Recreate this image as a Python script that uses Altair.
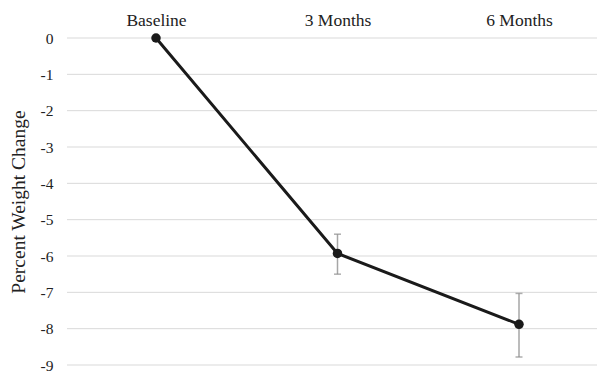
import altair as alt
import pandas as pd

timepoints = ["Baseline", "3 Months", "6 Months"]
mean_change = [0.0, -5.93, -7.88]
err_low = [0.0, -6.50, -8.78]
err_high = [0.0, -5.40, -7.03]
y_ticks = [0, -1, -2, -3, -4, -5, -6, -7, -8, -9]

df = pd.DataFrame({"t": timepoints, "m": mean_change, "lo": err_low, "hi": err_high})
df_err = df[df["t"] != "Baseline"]
df_grid = pd.DataFrame({"g": y_ticks})

FONT = "Liberation Serif"
W, H = 530, 327

x_axis = alt.Axis(orient="top", title=None, labelAngle=0, labelFontSize=17.5,
                  labelFont=FONT, labelColor="#222", labelPadding=9,
                  domain=False, ticks=False, grid=False)
y_axis = alt.Axis(title="Percent Weight Change", values=y_ticks, tickCount=10,
                  labelExpr="replace(format(datum.value, 'd'), '\u2212', '-')",
                  labelOverlap=False, labelBound=False,
                  labelFontSize=15.5, labelFont=FONT, labelColor="#222",
                  labelPadding=14, titleFont=FONT, titleFontSize=19.5,
                  titleFontWeight="normal", titleColor="#222", titlePadding=12,
                  domain=False, ticks=False, grid=False)
x_scale = alt.Scale(type="point", padding=0, domain=timepoints, range=[89, 452])
y_scale = alt.Scale(domain=[-9, 0], nice=False, zero=False)

X = alt.X("t:N", scale=x_scale, axis=x_axis)

grid = alt.Chart(df_grid).mark_rule(color="#d9d9d9", strokeWidth=1).encode(
    y=alt.Y("g:Q", scale=y_scale, axis=y_axis),
    x=alt.value(0), x2=alt.value(W))

line = alt.Chart(df).mark_line(color="#1a1a1a", strokeWidth=3).encode(
    x=X, y=alt.Y("m:Q", scale=y_scale, axis=y_axis))

rules = alt.Chart(df_err).mark_rule(color="#a6a6a6", strokeWidth=1.5).encode(
    x=X, y=alt.Y("lo:Q", scale=y_scale, axis=y_axis), y2="hi:Q")
cap_lo = alt.Chart(df_err).mark_tick(color="#8c8c8c", orient="horizontal", size=7, thickness=1.5).encode(
    x=X, y=alt.Y("lo:Q", scale=y_scale, axis=y_axis))
cap_hi = alt.Chart(df_err).mark_tick(color="#8c8c8c", orient="horizontal", size=7, thickness=1.5).encode(
    x=X, y=alt.Y("hi:Q", scale=y_scale, axis=y_axis))

points = alt.Chart(df).mark_point(filled=True, color="#1a1a1a", size=90, opacity=1).encode(
    x=X, y=alt.Y("m:Q", scale=y_scale, axis=y_axis))

chart = alt.layer(grid, line, rules, cap_lo, cap_hi, points).properties(
    width=W, height=H,
    autosize=alt.AutoSizeParams(type="none"),
    padding={"left": 59, "top": 30, "right": 0, "bottom": 9},
).configure_view(stroke=None)

chart.save("out.html", embed_options={"renderer": "svg", "actions": False})
